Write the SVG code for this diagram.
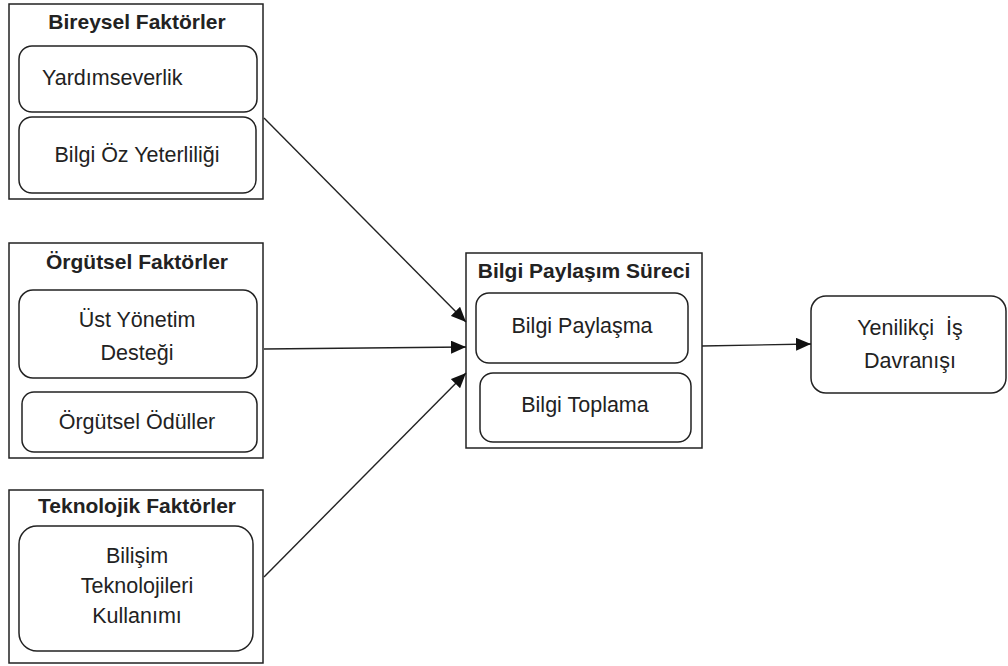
<svg xmlns="http://www.w3.org/2000/svg" width="1008" height="666" viewBox="0 0 1008 666">
<defs>
<style>
.outer{fill:#fff;stroke:#222;stroke-width:1.5}
.inner{fill:#fff;stroke:#222;stroke-width:1.5}
.t{font-family:"Liberation Sans",Arial,sans-serif;font-size:21.5px;fill:#222;text-anchor:middle}
.b{font-weight:bold;font-size:21px}
.l{text-anchor:start}
.conn{stroke:#222;stroke-width:1.4;fill:none;marker-end:url(#ah)}
</style>
<marker id="ah" viewBox="0 0 15 13" refX="15" refY="6.5" markerWidth="15" markerHeight="13" markerUnits="userSpaceOnUse" orient="auto">
<path d="M0,0 L15,6.5 L0,13 Z" fill="#111"/>
</marker>
</defs>
<rect width="1008" height="666" fill="#fff"/>
<g id="bireysel">
<rect class="outer" x="9" y="4" width="254" height="195"/>
<text class="t b" x="137" y="29">Bireysel Faktörler</text>
<g id="yardimseverlik">
<rect class="inner" x="19" y="46" width="238" height="66" rx="13"/>
<text class="t l" x="42" y="85">Yardımseverlik</text>
</g>
<g id="bilgi-oz">
<rect class="inner" x="19" y="117" width="237" height="76" rx="13"/>
<text class="t" x="137" y="162">Bilgi Öz Yeterliliği</text>
</g>
</g>
<g id="orgutsel">
<rect class="outer" x="9" y="243" width="254" height="215"/>
<text class="t b" x="137" y="269">Örgütsel Faktörler</text>
<g id="ust-yonetim">
<rect class="inner" x="19" y="290" width="238" height="88" rx="14"/>
<text class="t" x="137" y="327">Üst Yönetim</text>
<text class="t" x="137" y="360">Desteği</text>
</g>
<g id="odul">
<rect class="inner" x="22" y="392" width="235" height="60" rx="12"/>
<text class="t" x="137" y="429">Örgütsel Ödüller</text>
</g>
</g>
<g id="teknolojik">
<rect class="outer" x="9" y="490" width="254" height="173"/>
<text class="t b" x="137" y="513">Teknolojik Faktörler</text>
<g id="bilisim">
<rect class="inner" x="19" y="526" width="234" height="125" rx="18"/>
<text class="t" x="137" y="563">Bilişim</text>
<text class="t" x="137" y="593">Teknolojileri</text>
<text class="t" x="137" y="623">Kullanımı</text>
</g>
</g>
<g id="bilgi-paylasim">
<rect class="outer" x="466" y="253" width="236" height="195"/>
<text class="t b" x="584" y="278">Bilgi Paylaşım Süreci</text>
<g id="paylasma">
<rect class="inner" x="476" y="293" width="212" height="70" rx="13"/>
<text class="t" x="582" y="333">Bilgi Paylaşma</text>
</g>
<g id="toplama">
<rect class="inner" x="480" y="373" width="211" height="69" rx="13"/>
<text class="t" x="585" y="412">Bilgi Toplama</text>
</g>
</g>
<g id="yenilikci">
<rect class="inner" x="811" y="296" width="195" height="97" rx="15"/>
<text class="t" x="910" y="335" xml:space="preserve">Yenilikçi  İş</text>
<text class="t" x="910" y="368">Davranışı</text>
</g>
<g id="connectors">
<line class="conn" x1="264" y1="118" x2="466" y2="322"/>
<line class="conn" x1="264" y1="349" x2="466" y2="347"/>
<line class="conn" x1="264" y1="577" x2="466" y2="373"/>
<line class="conn" x1="702" y1="346" x2="811" y2="344"/>
</g>
</svg>
